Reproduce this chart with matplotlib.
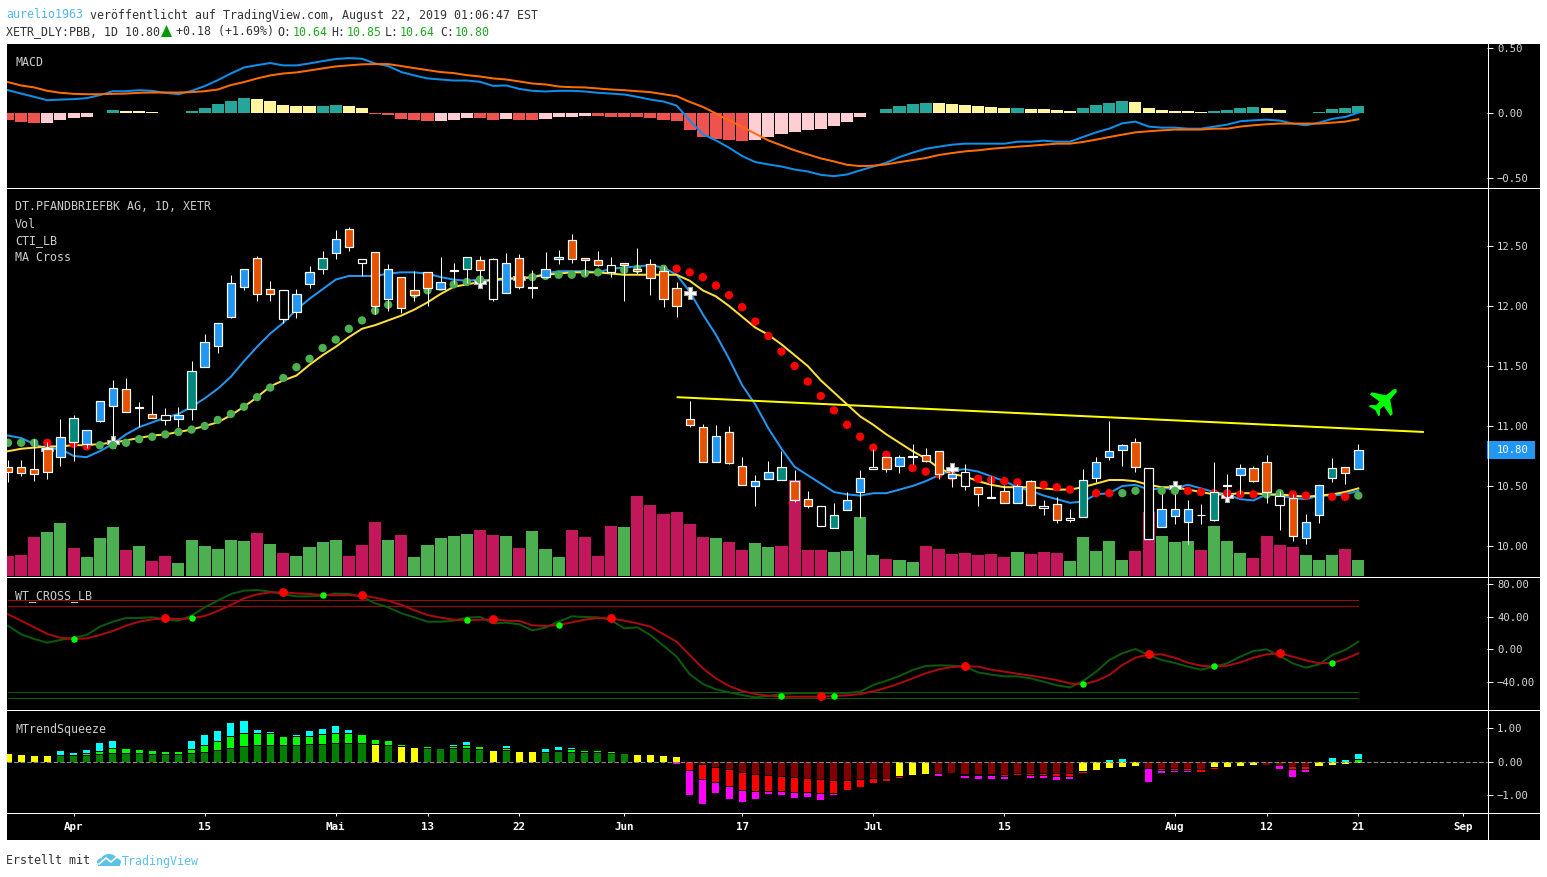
import math
import matplotlib
matplotlib.use("Agg")
import matplotlib.pyplot as plt
from matplotlib.lines import Line2D
from matplotlib.patches import Rectangle, Polygon, Ellipse

# ---------- data ----------
month_ticks = [5, 15, 25, 32, 39, 47, 56, 66, 76, 89, 96, 103, 111]
month_labels = ["Apr", "15", "Mai", "13", "22", "Jun", "17", "Jul", "15", "Aug", "12", "21", "Sep"]

price_high = [10.72,10.72,10.89,10.87,11.06,11.09,10.97,11.21,11.38,11.40,
 11.20,11.26,11.15,11.16,11.54,11.77,11.86,12.26,12.31,12.42,
 12.21,12.13,12.14,12.33,12.46,12.63,12.66,12.39,12.45,12.35,
 12.24,12.29,12.28,12.41,12.36,12.41,12.42,12.40,12.44,12.43,
 12.30,12.45,12.47,12.60,12.40,12.46,12.41,12.36,12.48,12.39,
 12.33,12.20,11.21,11.02,11.01,11.00,10.74,10.59,10.71,10.79,
 10.63,10.46,10.33,10.36,10.45,10.63,10.81,10.74,10.76,10.85,
 10.82,10.79,10.68,10.68,10.49,10.58,10.51,10.52,10.55,10.38,
 10.41,10.31,10.64,10.74,11.04,10.85,10.90,10.65,10.43,10.43,
 10.38,10.35,10.70,10.60,10.68,10.67,10.76,10.46,10.43,10.27,
 10.51,10.73,10.66,10.85]
body_top = [10.66,10.66,10.64,10.81,10.91,11.07,10.97,11.21,11.32,11.31,
 11.16,11.10,11.09,11.09,11.46,11.70,11.86,12.19,12.31,12.40,
 12.14,12.13,12.10,12.28,12.40,12.56,12.64,12.39,12.45,12.31,
 12.24,12.13,12.28,12.20,12.30,12.41,12.38,12.39,12.36,12.40,
 12.16,12.31,12.41,12.55,12.40,12.38,12.34,12.36,12.31,12.35,
 12.29,12.15,11.06,10.99,10.92,10.95,10.67,10.54,10.62,10.66,
 10.54,10.39,10.33,10.26,10.38,10.57,10.66,10.74,10.74,10.75,
 10.76,10.79,10.60,10.62,10.49,10.41,10.46,10.50,10.54,10.33,
 10.35,10.23,10.55,10.70,10.79,10.84,10.87,10.65,10.31,10.31,
 10.31,10.26,10.45,10.51,10.65,10.65,10.70,10.42,10.40,10.20,
 10.51,10.65,10.66,10.80]
body_bot = [10.62,10.61,10.60,10.62,10.74,10.87,10.85,11.04,11.17,11.12,
 11.15,11.07,11.05,11.06,11.14,11.49,11.67,11.91,12.16,12.10,
 12.10,11.89,11.95,12.18,12.31,12.44,12.49,12.36,12.00,12.06,
 11.98,12.09,12.15,12.14,12.29,12.31,12.30,12.06,12.11,12.16,
 12.15,12.24,12.39,12.39,12.38,12.34,12.28,12.34,12.29,12.23,
 12.06,12.00,11.01,10.70,10.70,10.69,10.51,10.50,10.56,10.55,
 10.38,10.33,10.17,10.15,10.30,10.45,10.64,10.64,10.67,10.74,
 10.71,10.60,10.57,10.50,10.43,10.40,10.36,10.36,10.34,10.32,
 10.22,10.22,10.24,10.57,10.74,10.80,10.66,10.06,10.16,10.25,
 10.20,10.26,10.22,10.50,10.59,10.54,10.45,10.34,10.08,10.07,
 10.26,10.57,10.61,10.64]
price_low = [10.53,10.58,10.54,10.56,10.67,10.71,10.82,11.03,10.90,11.12,
 10.99,11.07,11.01,10.99,11.05,11.49,11.61,11.90,12.13,12.04,
 12.04,11.86,11.90,12.15,12.27,12.39,12.46,12.25,11.93,11.96,
 11.94,12.04,12.00,12.14,12.18,12.19,12.16,12.04,12.11,12.14,
 12.07,12.23,12.35,12.36,12.26,12.33,12.24,12.04,12.27,12.09,
 11.99,11.91,10.99,10.70,10.70,10.68,10.51,10.33,10.56,10.55,
 10.37,10.32,10.17,10.15,10.30,10.23,10.64,10.62,10.61,10.68,
 10.70,10.56,10.49,10.47,10.33,10.40,10.36,10.36,10.33,10.26,
 10.19,10.20,10.24,10.53,10.72,10.67,10.62,10.06,10.16,10.18,
 10.02,10.18,10.21,10.37,10.43,10.53,10.36,10.13,10.04,10.02,
 10.19,10.53,10.52,10.64]
candle_kind = ("OOOOBTBBBO" "WOWBTBBBBO" "OWBBTBOWOB" "OOOBWTOWBO"
               "WBTOOOWOOO" "OOOOBOOBBT" "OOWTBBWOBW" "OOBWOWOBOW"
               "OWTBBBOWBB" "BWTOBOOWOB" "BTOB")

ma_fast = [10.92,10.90,10.85,10.81,10.81,10.75,10.74,10.79,10.85,10.93,
 10.99,11.03,11.07,11.10,11.16,11.23,11.31,11.41,11.54,11.66,
 11.77,11.86,11.97,12.06,12.14,12.22,12.25,12.25,12.25,12.27,
 12.28,12.28,12.27,12.24,12.22,12.21,12.22,12.21,12.22,12.23,
 12.24,12.27,12.29,12.29,12.29,12.28,12.31,12.32,12.33,12.34,
 12.32,12.26,12.12,11.93,11.76,11.56,11.34,11.18,10.98,10.81,
 10.66,10.59,10.52,10.45,10.43,10.42,10.44,10.44,10.47,10.50,
 10.54,10.59,10.63,10.64,10.62,10.58,10.54,10.49,10.46,10.42,
 10.39,10.36,10.37,10.43,10.44,10.50,10.51,10.47,10.48,10.48,
 10.51,10.48,10.45,10.43,10.39,10.38,10.43,10.42,10.40,10.39,
 10.42,10.42,10.43,10.46]
ma_slow = [10.79,10.81,10.82,10.83,10.83,10.84,10.84,10.85,10.86,10.88,
 10.90,10.92,10.93,10.95,10.97,11.00,11.03,11.09,11.16,11.24,
 11.33,11.38,11.42,11.51,11.59,11.66,11.74,11.81,11.84,11.88,
 11.92,11.97,12.03,12.10,12.16,12.18,12.20,12.22,12.23,12.23,
 12.24,12.26,12.27,12.28,12.28,12.28,12.27,12.26,12.26,12.26,
 12.26,12.26,12.21,12.13,12.08,12.00,11.91,11.82,11.76,11.68,
 11.59,11.50,11.38,11.28,11.18,11.08,11.01,10.93,10.86,10.79,
 10.73,10.65,10.60,10.58,10.54,10.51,10.49,10.49,10.49,10.48,
 10.47,10.47,10.49,10.52,10.55,10.55,10.54,10.51,10.49,10.49,
 10.47,10.45,10.43,10.43,10.44,10.44,10.43,10.43,10.42,10.41,
 10.42,10.43,10.45,10.48]
cti_dots = [10.86,10.86,10.86,10.86,10.84,10.85,10.83,10.84,10.84,10.86,
 10.89,10.91,10.93,10.95,10.97,11.00,11.05,11.10,11.16,11.24,
 11.32,11.40,11.49,11.56,11.65,11.72,11.81,11.88,11.96,12.01,
 12.08,12.10,12.13,12.16,12.18,12.20,12.22,12.22,12.23,12.24,
 12.24,12.25,12.26,12.26,12.27,12.28,12.30,12.30,12.31,12.31,
 12.31,12.31,12.28,12.24,12.17,12.09,11.99,11.87,11.75,11.62,
 11.50,11.37,11.25,11.13,11.01,10.91,10.82,10.76,10.70,10.65,
 10.62,10.60,10.58,10.57,10.56,10.55,10.54,10.53,10.51,10.51,
 10.49,10.47,10.45,10.44,10.44,10.44,10.46,10.46,10.46,10.46,
 10.46,10.45,10.44,10.44,10.43,10.43,10.43,10.44,10.43,10.42,
 10.42,10.41,10.41,10.42]
cti_kind = "GGG" + "RRRR" + "G" * 44 + "R" * 34 + "GGGGG" + "RRRRRR" + "GG" + "RRRRR" + "G"

cross_idx = [3, 8, 36, 39, 52, 72, 89, 93]
cross_val = [10.81, 10.87, 12.20, 12.23, 12.11, 10.64, 10.49, 10.42]

trend_idx = [51, 108]
trend_val = [11.24, 10.95]

volume = [20,21,39,44,53,28,19,38,49,26,
 30,15,20,13,36,30,27,36,35,43,
 32,23,20,29,34,36,20,31,54,36,
 41,19,31,38,40,42,46,41,40,28,
 45,27,19,46,39,20,50,49,80,71,
 62,64,52,39,38,34,26,33,29,30,
 96,26,26,24,25,59,21,17,16,14,
 30,27,22,23,21,22,19,24,22,24,
 23,15,39,25,35,16,25,64,40,34,
 35,26,50,35,23,18,40,31,29,21,
 16,21,27,16]
volume_kind = ("PPPGGPGGGP" "GPPGGGGGGP" "GPGGGGPPPG" "PGGGGGPPGP"
               "GGGPPPPGPP" "PPPPGPPGGP" "PPPGGGGPGG" "PPPPPPPGPP"
               "PGGGGGPPGG" "GPGGGPPPPG" "GGPG")

macd_hist = [-.054,-.069,-.077,-.077,-.054,-.038,-.031,0,.023,.015,
 .015,.008,0,-.005,.015,.038,.069,.092,.115,.108,
 .092,.062,.054,.054,.054,.062,.054,.038,-.008,-.015,
 -.046,-.054,-.062,-.062,-.054,-.038,-.038,-.054,-.046,-.054,
 -.054,-.046,-.031,-.031,-.023,-.023,-.031,-.031,-.031,-.038,
 -.054,-.062,-.131,-.185,-.200,-.208,-.215,-.208,-.185,-.162,
 -.146,-.131,-.123,-.100,-.069,-.031,0,.031,.054,.069,
 .077,.077,.069,.062,.054,.046,.038,.038,.031,.031,
 .023,.015,.038,.062,.077,.092,.085,.038,.023,.015,
 .015,.008,.015,.023,.038,.046,.038,.023,0,-.005,
 .008,.031,.038,.054]
hist_kind = ("RRRLLLLLTY" "YYYRTTTTTY" "YYYYTTYYRR" "RRRLLLRRLR"
             "RLLLLRRRRR" "RRRRRRRLLL" "LLLLLLTTTT" "TYYYYYYTYY"
             "YYTTTTYYYY" "YYTTTTYYRR" "TTTT")
macd_line = [.173,.147,.122,.096,.101,.104,.112,.135,.165,.165,
 .173,.168,.153,.142,.168,.204,.25,.301,.347,.365,
 .381,.363,.363,.378,.396,.412,.419,.414,.378,.358,
 .312,.286,.263,.255,.247,.247,.237,.206,.209,.183,
 .168,.163,.168,.168,.163,.153,.147,.14,.122,.101,
 .086,.055,-.058,-.165,-.212,-.268,-.332,-.378,-.396,-.412,
 -.435,-.45,-.476,-.486,-.473,-.442,-.412,-.383,-.34,-.306,
 -.276,-.26,-.245,-.237,-.237,-.237,-.237,-.222,-.222,-.214,
 -.222,-.222,-.186,-.15,-.122,-.081,-.068,-.106,-.114,-.114,
 -.122,-.122,-.106,-.091,-.065,-.058,-.053,-.06,-.083,-.096,
 -.076,-.047,-.032,.001]
signal_line = [.235,.209,.194,.168,.153,.145,.142,.142,.145,.147,
 .153,.155,.155,.155,.158,.165,.178,.212,.235,.263,
 .286,.301,.309,.324,.34,.355,.363,.371,.373,.373,
 .358,.342,.327,.312,.304,.288,.278,.263,.255,.24,
 .224,.217,.201,.196,.194,.186,.178,.173,.165,.158,
 .142,.127,.083,.045,-.006,-.058,-.109,-.16,-.212,-.25,
 -.288,-.319,-.35,-.373,-.399,-.409,-.406,-.396,-.378,-.363,
 -.347,-.324,-.309,-.296,-.288,-.276,-.268,-.26,-.253,-.245,
 -.237,-.237,-.224,-.206,-.186,-.168,-.15,-.142,-.135,-.129,
 -.129,-.129,-.122,-.122,-.106,-.096,-.088,-.083,-.083,-.083,
 -.083,-.076,-.068,-.05]

wt1 = [28.7,18.1,12.3,7.8,11.1,13.9,17.2,27.5,33.6,38.2,
 38.2,39,36.5,34.9,41,51.3,59.5,67.7,71.8,72.6,
 70.6,67.3,64.8,64.8,65.6,68.1,67.7,64.4,56.2,51.3,
 43.9,39,33.6,33.6,34.9,38.6,39.4,31.6,32.4,30.4,
 23,26.3,33.6,40.2,39.4,39,35.7,25.4,26.7,17.2,
 4.1,-9.4,-31,-43,-49.6,-53.3,-56.6,-59.5,-57.8,-55.4,
 -54.2,-54.2,-54.2,-54.2,-54.2,-52.5,-44.3,-39,-33.2,-25.8,
 -20.9,-20.1,-20.5,-21.7,-28.7,-31.6,-33.6,-33.6,-36.1,-40.2,
 -44.7,-47.2,-39.4,-27.9,-13.5,-5.3,0,-7.4,-13.5,-17.2,
 -21.7,-25.4,-21.7,-17.6,-9.4,-2.5,-.4,-8.6,-17.6,-23,
 -18.9,-7.4,-1.2,9]
wt2 = [42.7,34.9,26.7,18.5,13.9,12.3,13.1,17.2,22.2,28.7,
 33.6,36.5,37.7,36.9,37.7,40.6,46.8,54.2,62.4,67.3,
 69.7,69.7,68.5,67.7,66.5,66.1,66.1,65.6,63.2,59.5,
 54.2,47.6,41.8,38.6,36.1,35.3,36.1,36.5,34.9,34.5,
 29.1,28.3,29.5,32.8,36.1,38.2,37.7,34.9,31.6,27.5,
 18.1,9,-7.4,-23.8,-36.1,-45.5,-51.7,-55.4,-57.4,-58.7,
 -58.7,-58.7,-58.7,-57.8,-57,-55.4,-52.1,-47.6,-42.3,-36.1,
 -29.9,-25,-22.2,-21.3,-21.7,-25.4,-27.9,-30.4,-32.8,-35.3,
 -38.2,-42.3,-43.5,-39.4,-32,-19.7,-10.7,-6.6,-6.6,-10.7,
 -16.8,-20.5,-21.7,-20.5,-16.4,-10.7,-6.6,-5.3,-9.4,-13.9,
 -17.6,-17.2,-12.3,-5.3]
wt_levels_red = [60, 53]
wt_levels_green = [-53, -60]
wt_up_idx = [5, 14, 24, 35, 42, 59, 63, 82, 92, 101]
wt_up_val = [11.9, 37.7, 66.1, 35.7, 29.1, -58.3, -58.3, -43.5, -21.3, -16.8]
wt_dn_idx = [12, 21, 27, 37, 46, 62, 73, 87, 97]
wt_dn_val = [37.7, 69.7, 66.1, 36.5, 37.7, -58.3, -21.3, -6.6, -4.5]

sq_base = [.22,.19,.16,.16,.17,.16,.16,.19,.22,.22,
 .22,.19,.19,.19,.22,.25,.31,.37,.43,.46,
 .46,.46,.46,.49,.49,.52,.52,.52,.49,.46,
 .43,.40,.37,.37,.37,.37,.34,.31,.31,.28,
 .28,.25,.28,.25,.25,.25,.22,.22,.19,.19,
 .16,.13,0,-.08,-.17,-.23,-.32,-.38,-.41,-.44,
 -.47,-.50,-.53,-.56,-.56,-.53,-.50,-.48,-.44,-.40,
 -.37,-.35,-.35,-.36,-.37,-.36,-.36,-.33,-.33,-.33,
 -.33,-.33,-.29,-.25,-.19,-.16,-.14,-.20,-.20,-.20,
 -.20,-.23,-.17,-.16,-.13,-.10,-.10,-.11,-.14,-.14,
 -.13,-.10,-.07,-.04]
sq_kind = ("YYYYGGGGGG" "GGGGGGGGGG" "GGGGGGGGYG" "YYGGGGGYGY"
           "YGGGGGGGYY" "YYMMMMMMMM" "MMMMMMMMYY" "YMMMMMMMMM"
           "MMYYYYYMMM" "MMYYYYMMMM" "YYYY")
sq_mid = [0,0,0,0,0,0,.22,.29,.37,.37,
 .34,.31,.28,.28,.34,.46,.58,.73,.82,.82,
 .82,.73,.73,.73,.79,.82,.82,.79,.64,.61,
 .49,0,.43,0,.43,.46,.43,0,.37,0,
 0,0,.31,.34,.31,.31,.28,0,0,0,
 0,0,-.26,-.53,-.62,-.74,-.86,-.89,-.89,-.89,
 -.92,-.92,-.95,-.95,-.86,-.77,-.65,-.59,-.49,0,
 0,0,0,-.41,-.41,-.41,-.44,-.41,-.41,-.41,
 -.44,-.44,-.35,0,0,0,0,0,-.26,-.24,
 -.24,-.30,-.23,0,0,0,0,0,-.23,-.23,
 0,0,0,.04]
sq_top = [0,0,0,0,.31,.26,.34,.55,.61,0,
 0,0,0,0,.61,.79,.91,1.15,1.21,.94,
 .88,0,.79,.91,.97,1.06,.94,0,0,0,
 0,0,0,0,.49,.58,0,0,.46,0,
 0,.37,.43,.40,0,0,0,0,0,0,
 0,-.08,-1.01,-1.25,-.95,-1.13,-1.22,-1.13,-.98,-1.01,
 -1.10,-1.07,-1.16,-1.01,0,0,0,0,0,0,
 0,-.44,0,-.50,-.53,-.53,-.53,0,-.50,-.50,
 -.56,-.53,0,0,.04,.07,0,-.62,-.35,-.32,
 -.32,-.35,0,0,0,0,0,-.23,-.47,-.32,
 0,.10,.04,.22]

# ---------- layout (pixels) ----------
W, H = 1547, 877
MONO = "DejaVu Sans Mono"
PX = 72 / 100  # points per pixel

def fx(p): return p / W
def fy(p): return 1 - p / H

fig = plt.figure(figsize=(W / 100, H / 100), dpi=100, facecolor="white")

def panel(left, top, right, bottom, ylim):
    ax = fig.add_axes([fx(left), fy(bottom), fx(right - left), (bottom - top) / H])
    ax.set_facecolor("none")
    ax.set_xlim(-1 / 13.11, (1487 - 8) / 13.11)
    ax.set_ylim(*ylim)
    for s in ax.spines.values():
        s.set_visible(False)
    ax.set_xticks([])
    ax.yaxis.tick_right()
    ax.tick_params(axis="y", colors="white", length=6 * PX, width=1 * PX, pad=4 * PX,
                   labelsize=7.6, labelcolor="#d8d8d8")
    return ax

bg = fig.add_axes([fx(7), fy(840), fx(1540 - 7), (840 - 44) / H])
bg.set_facecolor("black")
bg.set_xticks([]); bg.set_yticks([])
for s in bg.spines.values():
    s.set_visible(False)

idx = list(range(len(price_high)))
for arr in (body_top, body_bot, price_low, candle_kind, ma_fast, ma_slow, cti_dots, cti_kind,
            volume, volume_kind, macd_hist, hist_kind, macd_line, signal_line, wt1, wt2,
            sq_base, sq_kind, sq_mid, sq_top):
    assert len(arr) == 104, len(arr)

# ---------- MACD ----------
ax1 = panel(7, 44, 1487, 187.5, (-.573, .527))
hist_col = {"R": "#EF5350", "L": "#FFCDD2", "T": "#26A69A", "Y": "#FFF59D"}
ax1.bar(idx, macd_hist, width=0.92, color=[hist_col[k] for k in hist_kind], zorder=2)
ax1.plot(idx, macd_line, color="#0E8FEA", lw=2 * PX, zorder=3)
ax1.plot(idx, signal_line, color="#FF6D00", lw=2 * PX, zorder=4)
ax1.set_yticks([-.5, 0, .5], ["\u22120.50", "0.00", "0.50"], family=MONO)

# ---------- Volume + price ----------
axv = panel(7, 188, 1487, 576, (0, 388))
axv.set_yticks([])
axv.bar(idx, volume, width=0.92,
        color=["#4CAF50" if k == "G" else "#C2185B" for k in volume_kind], zorder=1)

ax2 = panel(7, 188, 1487, 576, (9.75, 12.983))
ax2.plot(idx, ma_fast, color="#2196F3", lw=2 * PX, zorder=2)
ax2.plot(idx, ma_slow, color="#FDE03A", lw=2 * PX, zorder=2.1)
ax2.scatter(cross_idx, cross_val, marker="P", s=70, c="white", edgecolors="#a8a8a8",
            linewidths=0.8, zorder=2.5)
ax2.scatter(idx, cti_dots, s=36, linewidths=0, zorder=3,
            c=["#4CAF50" if k == "G" else "#FF0000" for k in cti_kind])
cand_col = {"B": "#2196F3", "O": "#E65100", "T": "#00897B", "W": "#000000"}
ax2.vlines(idx, price_low, price_high, color="white", lw=1 * PX, zorder=4)
ax2.bar(idx, [t - b for t, b in zip(body_top, body_bot)], bottom=body_bot, width=0.64,
        color=[cand_col[k] for k in candle_kind], edgecolor="white", linewidth=1.2 * PX, zorder=5)
ax2.plot(trend_idx, trend_val, color="#FFFF00", lw=2 * PX, zorder=6, solid_capstyle="butt")
ax2.set_yticks([10, 10.5, 10.8, 11, 11.5, 12, 12.5],
               ["10.00", "10.50", "", "11.00", "11.50", "12.00", "12.50"], family=MONO)

# ---------- WT cross ----------
ax3 = panel(7, 577, 1487, 709, (-73.8, 88.6))
for lv in wt_levels_red:
    ax3.plot([0, 103], [lv, lv], color="#9E0B0B", lw=1 * PX, zorder=1)
for lv in wt_levels_green:
    ax3.plot([0, 103], [lv, lv], color="#0B5F0B", lw=1 * PX, zorder=1)
ax3.plot(idx, wt1, color="#0B5A0B", lw=2 * PX, zorder=2)
ax3.plot(idx, wt2, color="#A80C0C", lw=2 * PX, zorder=3)
ax3.scatter(wt_up_idx, wt_up_val, s=22, c="#00FF00", linewidths=0, zorder=4)
ax3.scatter(wt_dn_idx, wt_dn_val, s=40, c="#FF0000", linewidths=0, zorder=4)
ax3.set_yticks([-40, 0, 40, 80], ["\u221240.00", "0.00", "40.00", "80.00"], family=MONO)

# ---------- MTrendSqueeze ----------
ax4 = panel(7, 710, 1487, 812.5, (-1.518, 1.536))
base_col = {"Y": "#FFFF00", "G": "#007F00", "M": "#800000"}
GAP = 0.03
bw = 0.54
for i in idx:
    b, m, t = sq_base[i], sq_mid[i], sq_top[i]
    if b:
        ax4.bar(i, b, width=bw, color=base_col[sq_kind[i]], zorder=2)
    if m:
        start = b + GAP if (m > 0 and b > 0) else b - GAP if (m < 0 and b < 0) else 0
        ax4.bar(i, m - start, bottom=start, width=bw,
                color="#00FF00" if m > 0 else "#FF0000", zorder=2)
    if t:
        ref = m if m * t > 0 else (b if b * t > 0 else 0)
        start = ref + GAP if (t > 0 and ref) else ref - GAP if (t < 0 and ref) else 0
        ax4.bar(i, t - start, bottom=start, width=bw,
                color="#00FFFF" if t > 0 else "#FF00FF", zorder=2)
ax4.axhline(0, color="#8a8a8a", lw=1.1 * PX, ls=(0, (4, 2)), zorder=3)
ax4.set_yticks([-1, 0, 1], ["\u22121.00", "0.00", "1.00"], family=MONO)
ax4.set_xticks(month_ticks, month_labels, family=MONO, fontweight="bold")
ax4.tick_params(axis="x", colors="white", length=3 * PX, width=1 * PX, pad=6 * PX, labelsize=7.8)

# ---------- frame lines ----------
for y in (187.5, 576.5, 709.5, 812.5):
    fig.add_artist(Line2D([fx(7), fx(1540)], [fy(y), fy(y)], color="white", lw=1 * PX))
fig.add_artist(Line2D([fx(1487.5), fx(1487.5)], [fy(44), fy(840)], color="white", lw=1 * PX))

# ---------- last price box ----------
fig.add_artist(Rectangle((fx(1487), fy(459)), fx(48), 18 / H, color="#2196F3", lw=0))
fig.text(fx(1497), fy(450), "10.80", family=MONO, fontsize=7.6, color="white", va="center", ha="left")

# ---------- plane icon (drawn in a local frame: u towards the nose, v across) ----------
half = [(17, 0), (15, 2), (5, 3), (-3, 15), (-6, 15), (-4, 3), (-9, 2.8),
        (-13, 7), (-15, 7), (-13, 0)]
outline = half + [(u, -v) for u, v in reversed(half[1:-1])]
ang = math.radians(44)
cx, cy = 1384.5, 401
pts = [(fx(cx + u * math.cos(ang) - v * math.sin(ang)), fy(cy - u * math.sin(ang) - v * math.cos(ang)))
       for u, v in outline]
fig.add_artist(Polygon(pts, closed=True, color="#00FF00", lw=0, transform=fig.transFigure))

# ---------- pane legends ----------
def label(x, y, s, color="#cccccc", size=8.4):
    return fig.text(fx(x), fy(y), s, family=MONO, fontsize=size, color=color, va="center", ha="left")

label(15, 62.5, "MACD")
label(15, 207, "DT.PFANDBRIEFBK AG, 1D, XETR")
label(15, 224, "Vol")
label(15, 241, "CTI_LB")
label(15, 258, "MA Cross")
label(15, 595.5, "WT_CROSS_LB")
label(15, 729, "MTrendSqueeze")

# ---------- header ----------
DARK = "#333333"
GREEN = "#21a821"
label(6, 15, "aurelio1963", "#55b8ea")
label(90, 15, "ver\u00f6ffentlicht auf TradingView.com, August 22, 2019 01:06:47 EST", DARK)
label(6, 32, "XETR_DLY:PBB, 1D 10.80", DARK)
fig.add_artist(Polygon([(fx(161), fy(37)), (fx(172), fy(37)), (fx(166.5), fy(25))],
                       closed=True, color="#009900", lw=0, transform=fig.transFigure))
label(175.5, 32, "+0.18 (+1.69%)", DARK)
for x, s in ((277, "O:"), (331, "H:"), (385, "L:"), (440, "C:")):
    label(x, 32, s, DARK)
for x, s in ((293, "10.64"), (347, "10.85"), (400, "10.64"), (454.5, "10.80")):
    label(x, 32, s, GREEN)

# ---------- footer ----------
label(6, 861, "Erstellt mit", DARK)
BLUE_L = "#5AC1E8"
for ex, ey, w, h in ((109, 860, 16, 12), (103, 862, 12, 8), (115, 862, 12, 8)):
    fig.add_artist(Ellipse((fx(ex), fy(ey)), fx(w), h / H, color=BLUE_L, lw=0))
fig.add_artist(Rectangle((fx(98), fy(866)), fx(22), 4 / H, color=BLUE_L, lw=0))
fig.add_artist(Line2D([fx(99), fx(106), fx(111), fx(118)],
                      [fy(864), fy(858), fy(862), fy(856)], color="white", lw=1.2))
label(122, 861, "TradingView", BLUE_L)

fig.savefig("out.png", dpi=100, facecolor="white")
